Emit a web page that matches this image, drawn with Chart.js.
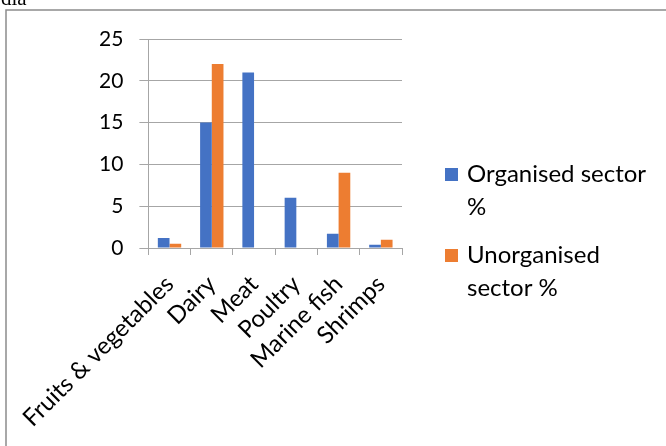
<!DOCTYPE html>
<html>
<head>
<meta charset="utf-8">
<script src="https://cdn.jsdelivr.net/npm/chart.js@4/dist/chart.umd.min.js"></script>
<style>
  html, body { margin: 0; padding: 0; background: #fff; }
  #wrap { width: 666px; height: 446px; position: relative; }
</style>
</head>
<body>
<div id="wrap"><canvas id="c"></canvas></div>
<script>
const categories = ["Fruits & vegetables", "Dairy", "Meat", "Poultry", "Marine fish", "Shrimps"];
const organised = [1.2, 15, 21, 6, 1.7, 0.4];
const unorganised = [0.5, 22, 0, 0, 9, 1];
const legendLines = [["Organised sector", "%"], ["Unorganised", "sector %"]];

const FONT = "Lato, 'Open Sans', sans-serif";
const GRID = "#a6a6a6";

// frame around the figure plus the clipped caption line above it
const framePlugin = {
  id: "frame",
  beforeDraw(chart) {
    const ctx = chart.ctx;
    ctx.save();
    ctx.fillStyle = "#fff";
    ctx.fillRect(0, 0, chart.width, chart.height);
    ctx.strokeStyle = "#8c8c8c";
    ctx.lineWidth = 1.5;
    ctx.beginPath();
    ctx.moveTo(6, chart.height);
    ctx.lineTo(6, 10);
    ctx.lineTo(chart.width, 10);
    ctx.stroke();
    ctx.fillStyle = "#000";
    ctx.font = "21px 'Liberation Serif', serif";
    ctx.textBaseline = "alphabetic";
    ctx.fillText("dia", 1, 5);
    ctx.restore();
  }
};

// legend on the right with wrapped labels
const sideLegend = {
  id: "sideLegend",
  afterDraw(chart) {
    const ctx = chart.ctx;
    const x = chart.chartArea.right + 43;
    const tops = [168, 249];
    ctx.save();
    ctx.font = "24px " + FONT;
    ctx.textBaseline = "top";
    chart.data.datasets.forEach((ds, i) => {
      ctx.fillStyle = ds.backgroundColor;
      ctx.fillRect(x, tops[i], 13, 13);
      ctx.fillStyle = "#000";
      legendLines[i].forEach((line, j) => {
        ctx.fillText(line, x + 22, tops[i] - 6 + j * 33);
      });
    });
    ctx.restore();
  }
};

new Chart(document.getElementById("c"), {
  type: "bar",
  data: {
    labels: categories,
    datasets: [
      { label: "Organised sector %", data: organised, backgroundColor: "#4472C4" },
      { label: "Unorganised sector %", data: unorganised, backgroundColor: "#ED7D31" }
    ]
  },
  options: {
    responsive: true,
    maintainAspectRatio: false,
    animation: false,
    layout: { padding: { left: 90, right: 264, top: 39, bottom: 0 } },
    datasets: { bar: { categoryPercentage: 0.553, barPercentage: 1.0 } },
    plugins: { legend: { display: false }, tooltip: { enabled: false } },
    scales: {
      x: {
        afterFit: s => { s.height = 198; },
        grid: { offset: true, drawOnChartArea: false, drawTicks: true, tickLength: 7, color: GRID },
        border: { color: GRID },
        ticks: {
          color: "#000", font: { family: FONT, size: 24 },
          minRotation: 45, maxRotation: 45, autoSkip: false, padding: 15
        }
      },
      y: {
        min: 0, max: 25,
        afterFit: s => { s.width = 58; },
        grid: { color: GRID, tickLength: 9 },
        border: { color: GRID },
        ticks: { stepSize: 5, color: "#000", font: { family: FONT, size: 21 }, padding: 16 }
      }
    }
  },
  plugins: [framePlugin, sideLegend]
});
</script>
</body>
</html>
